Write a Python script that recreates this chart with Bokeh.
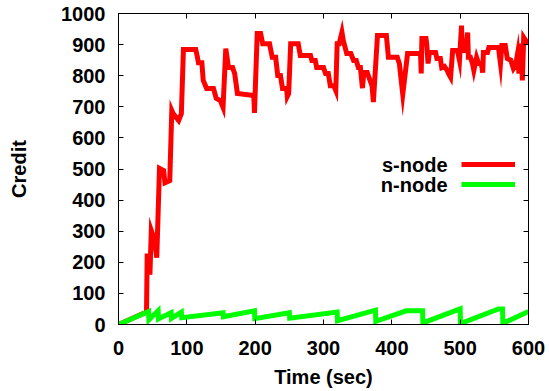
from bokeh.plotting import figure
from bokeh.models import (Range1d, LinearAxis, FixedTicker, Legend, LegendItem, Label)
from bokeh.embed import file_html
from bokeh.resources import INLINE

# ---- data ----
s_t = [0, 41, 42, 46, 48, 53, 56, 60, 66, 68, 75, 78, 80, 88, 92, 95, 113, 115, 117, 122,
       124, 129, 139, 143, 149, 153, 157, 161, 167, 170, 174, 198, 199, 203, 208, 211, 221,
       225, 230, 233, 237, 240, 246, 247, 249, 252, 263, 266, 281, 283, 288, 290, 300, 303,
       307, 310, 315, 318, 320, 323, 327, 329, 334, 340, 344, 348, 351, 354, 357, 359, 364,
       367, 371, 373, 379, 392, 395, 408, 411, 416, 423, 442, 443, 444, 450, 451, 453, 455,
       464, 466, 471, 473, 477, 481, 483, 486, 489, 496, 499, 502, 503, 508, 511, 512, 515,
       518, 520, 524, 527, 531, 533, 534, 540, 542, 556, 559, 561, 566, 569, 574, 578, 581,
       584, 586, 589, 591, 593, 596, 600]
s_v = [0, 40, 228, 160, 302, 270, 215, 502, 495, 456, 463, 688, 678, 656, 678, 884, 884, 865, 842, 842,
       785, 759, 759, 727, 720, 698, 887, 826, 826, 807, 743, 736, 680, 936, 936, 903, 903,
       859, 859, 801, 801, 759, 759, 733, 742, 903, 903, 865, 865, 849, 849, 826, 826, 807,
       807, 768, 768, 752, 903, 903, 940, 913, 871, 871, 849, 849, 826, 826, 760, 810, 810,
       791, 768, 715, 929, 929, 859, 859, 839, 740, 871, 871, 807, 920, 920, 903, 839, 875,
       875, 855, 855, 826, 830, 817, 807, 795, 881, 881, 849, 961, 881, 881, 939, 859, 859,
       839, 817, 859, 839, 839, 810, 875, 875, 891, 891, 839, 897, 897, 855, 850, 823, 833,
       871, 807, 903, 785, 923, 913, 903]

n_t = [0, 44, 44.5, 58, 58.5, 77, 77.5, 92, 92.5, 153, 153.5, 199, 199.5, 250, 250.5,
       320, 320.5, 376, 376.5, 421, 445, 445.5, 500, 500.5, 556, 562, 562.5, 600]
n_v = [0, 42, 15, 44, 18, 38, 20, 40, 22, 38, 25, 44, 19, 38, 20,
       40, 12, 46, 10, 44, 44, 5, 50, 3, 50, 50, 4, 42]

x_ticks = [0, 100, 200, 300, 400, 500, 600]
y_ticks = [0, 100, 200, 300, 400, 500, 600, 700, 800, 900, 1000]

FONT = "Liberation Sans"
RED = "#ff0000"
GREEN = "#00ff00"

p = figure(width=549, height=391, output_backend="svg", toolbar_location=None,
           x_range=Range1d(0, 600), y_range=Range1d(0, 1000),
           min_border_left=118, min_border_right=21, min_border_top=13, min_border_bottom=67)
p.grid.visible = False
p.background_fill_color = "white"
p.border_fill_color = "white"
p.outline_line_color = "black"
p.outline_line_width = 1

r_s = p.line(s_t, s_v, line_color=RED, line_width=5, line_join="miter")
r_n = p.line(n_t, n_v, line_color=GREEN, line_width=5, line_join="miter")

for ax, ticks in ((p.xaxis[0], x_ticks), (p.yaxis[0], y_ticks)):
    ax.ticker = FixedTicker(ticks=ticks)
    ax.major_tick_in = 5
    ax.major_tick_out = 0
    ax.minor_tick_line_color = None
    ax.axis_line_color = "black"
    ax.major_label_text_font = FONT
    ax.major_label_text_font_style = "bold"
    ax.major_label_text_font_size = "20px"
    ax.major_label_text_color = "black"
    ax.axis_label_text_font = FONT
    ax.axis_label_text_font_style = "bold"
    ax.axis_label_text_font_size = "20px"
    ax.axis_label_text_color = "black"

p.xaxis[0].axis_label = "Time (sec)"
p.xaxis[0].major_label_standoff = 16
p.xaxis[0].axis_label_standoff = 8
p.yaxis[0].axis_label = "Credit"
p.yaxis[0].major_label_standoff = 13
p.yaxis[0].axis_label_standoff = 28

for side, ticks in (("above", x_ticks), ("right", y_ticks)):
    ax = LinearAxis(ticker=FixedTicker(ticks=ticks), major_tick_in=5, major_tick_out=0,
                    minor_tick_line_color=None, major_label_standoff=0,
                    major_label_overrides={t: "" for t in ticks},
                    axis_line_color="black")
    p.add_layout(ax, side)

legend = Legend(items=[LegendItem(label=" ", renderers=[r_s]),
                       LegendItem(label=" ", renderers=[r_n])],
                location=(343, 130), glyph_width=54, glyph_height=20, label_height=20,
                label_text_font_size="4px", spacing=0, padding=0, margin=0,
                label_standoff=0, border_line_color=None, background_fill_alpha=0)
p.add_layout(legend, "center")

for txt, yy in (("s-node", 160), ("n-node", 140)):
    p.add_layout(Label(x=329, y=yy, x_units="screen", y_units="screen", text=txt,
                       text_align="right", text_baseline="middle", text_font=FONT,
                       text_font_style="bold", text_font_size="20px", text_color="black"))

open("out.html", "w").write(file_html(p, INLINE))
